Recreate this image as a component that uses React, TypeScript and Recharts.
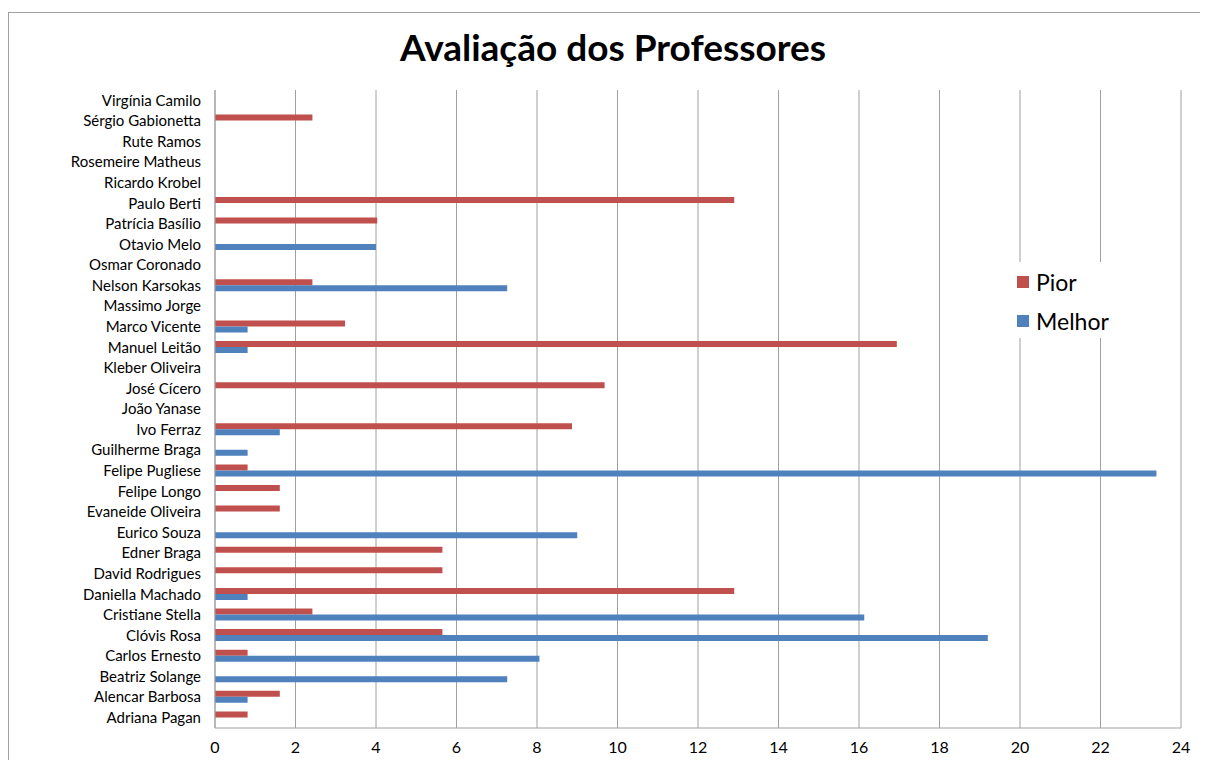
import React from "react";
import { BarChart, Bar, XAxis, YAxis, CartesianGrid, Legend } from "recharts";

const professores = [
  "Virgínia Camilo", "Sérgio Gabionetta", "Rute Ramos", "Rosemeire Matheus", "Ricardo Krobel",
  "Paulo Berti", "Patrícia Basílio", "Otavio Melo", "Osmar Coronado", "Nelson Karsokas",
  "Massimo Jorge", "Marco Vicente", "Manuel Leitão", "Kleber Oliveira", "José Cícero",
  "João Yanase", "Ivo Ferraz", "Guilherme Braga", "Felipe Pugliese", "Felipe Longo",
  "Evaneide Oliveira", "Eurico Souza", "Edner Braga", "David Rodrigues", "Daniella Machado",
  "Cristiane Stella", "Clóvis Rosa", "Carlos Ernesto", "Beatriz Solange", "Alencar Barbosa",
  "Adriana Pagan",
];
const pior = [
  0, 2.42, 0, 0, 0, 12.9, 4.03, 0, 0, 2.42,
  0, 3.23, 16.94, 0, 9.68, 0, 8.87, 0, 0.81, 1.61,
  1.61, 0, 5.65, 5.65, 12.9, 2.42, 5.65, 0.81, 0, 1.61,
  0.81,
];
const melhor = [
  0, 0, 0, 0, 0, 0, 0, 4.0, 0, 7.26,
  0, 0.81, 0.81, 0, 0, 0, 1.61, 0.81, 23.39, 0,
  0, 9.0, 0, 0, 0.81, 16.13, 19.2, 8.06, 7.26, 0.81,
  0,
];
const xTicks = [0, 2, 4, 6, 8, 10, 12, 14, 16, 18, 20, 22, 24];

const data = professores.map((nome, i) => ({ nome, Pior: pior[i], Melhor: melhor[i] }));

const FONT = "Lato, 'Open Sans', sans-serif";
const RED = "#C0504D";
const BLUE = "#4F81BD";

function LegendBox() {
  const items = [
    { label: "Pior", color: RED },
    { label: "Melhor", color: BLUE },
  ];
  return (
    <div style={{ background: "#fff", width: 115, height: 76, position: "relative", fontFamily: FONT }}>
      {items.map((it, i) => (
        <div
          key={it.label}
          style={{ position: "absolute", left: 9, top: 8 + i * 39, height: 24, display: "flex", alignItems: "center" }}
        >
          <span style={{ display: "inline-block", width: 12, height: 12, background: it.color, marginRight: 7 }} />
          <span style={{ fontSize: 23, lineHeight: 1, color: "#000" }}>{it.label}</span>
        </div>
      ))}
    </div>
  );
}

export default function App() {
  return (
    <div style={{ position: "relative", width: 1200, height: 752, overflow: "hidden", background: "#fff" }}>
      <div style={{ position: "absolute", left: 0, top: 4, right: -10, bottom: -10, border: "1px solid #a0a0a0" }} />
      <div
        style={{
          position: "absolute", left: 5, top: 20, width: 1200, textAlign: "center",
          fontFamily: FONT, fontWeight: 700, fontSize: 37, lineHeight: 1, color: "#000",
        }}
      >
        Avaliação dos Professores
      </div>
      <div style={{ position: "absolute", left: 0, top: 0 }}>
        <BarChart
          width={1200}
          height={752}
          data={data}
          layout="vertical"
          margin={{ top: 82, right: 27, bottom: 0, left: 0 }}
          barGap={0}
          barSize={6}
        >
          <CartesianGrid horizontal={false} stroke="#a0a0a0" />
          <XAxis
            type="number"
            domain={[0, 24]}
            ticks={xTicks}
            interval={0}
            height={32}
            tickLine={false}
            tickMargin={8}
            axisLine={{ stroke: "#a0a0a0" }}
            tick={{ fontSize: 16, fill: "#000", fontFamily: FONT }}
          />
          <YAxis
            type="category"
            dataKey="nome"
            width={207}
            interval={0}
            tickLine={false}
            tickMargin={8}
            axisLine={{ stroke: "#a0a0a0" }}
            tick={{ fontSize: 15, fill: "#000", fontFamily: FONT }}
          />
          <Legend
            layout="vertical"
            verticalAlign="middle"
            align="center"
            content={() => <LegendBox />}
            wrapperStyle={{ position: "absolute", left: 1000, top: 254, width: 115, height: 76 }}
          />
          <Bar dataKey="Pior" fill={RED} isAnimationActive={false} />
          <Bar dataKey="Melhor" fill={BLUE} isAnimationActive={false} />
        </BarChart>
      </div>
    </div>
  );
}
